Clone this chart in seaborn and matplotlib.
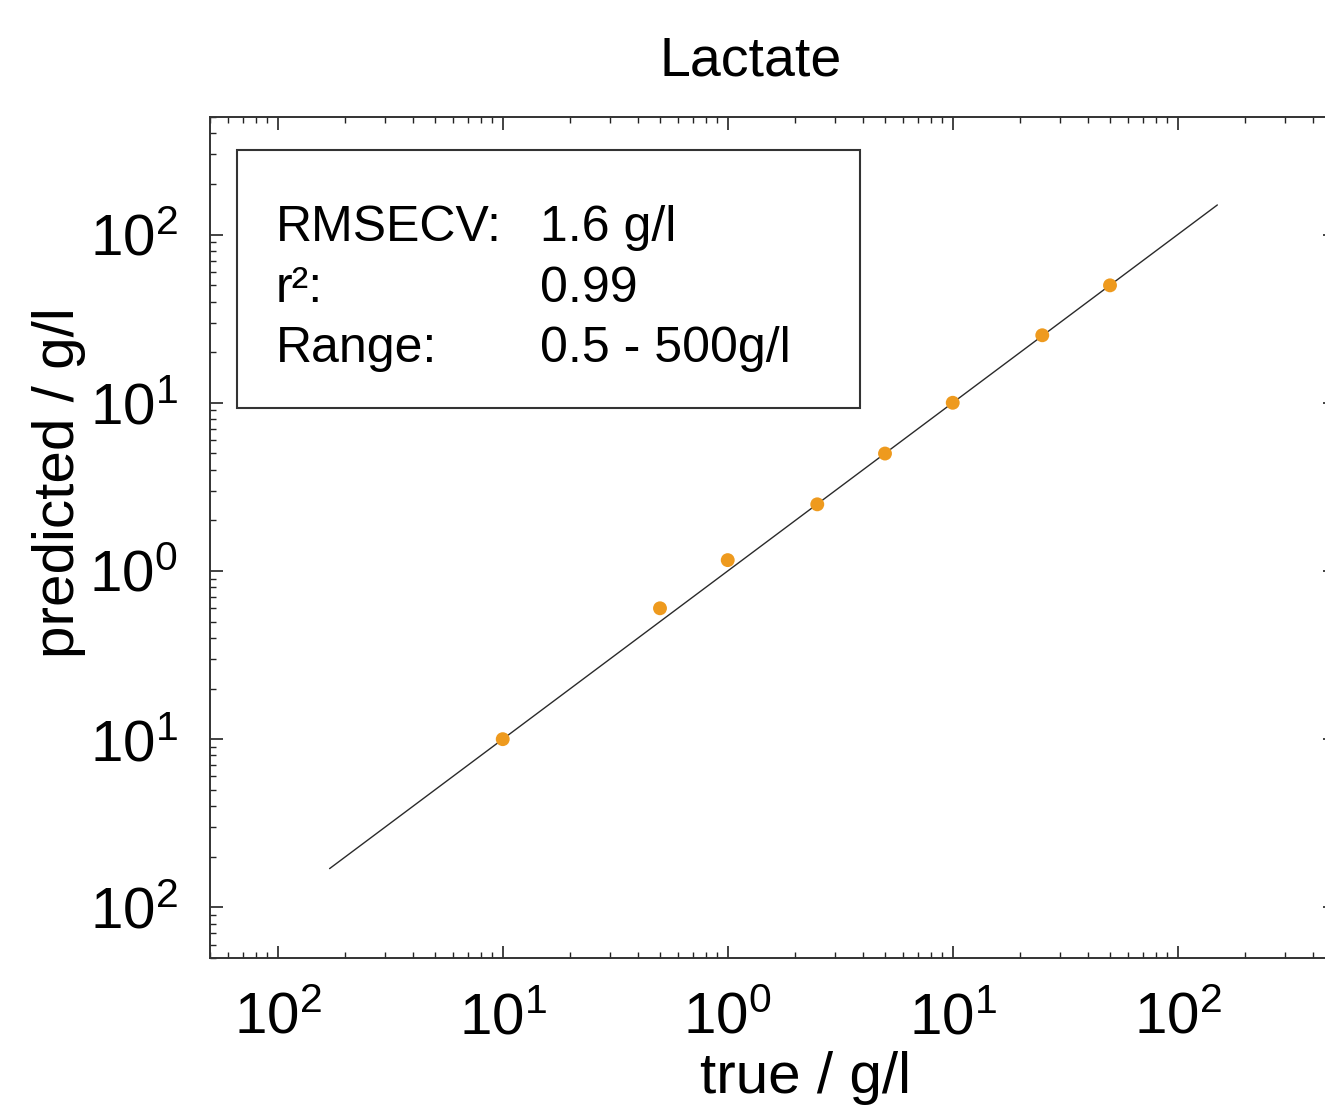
import matplotlib
matplotlib.use("Agg")
import matplotlib.pyplot as plt
import seaborn as sns
import pandas as pd
from matplotlib.ticker import FixedLocator, FixedFormatter, LogLocator, NullFormatter
from matplotlib.patches import Rectangle

# ---- data ----
true_vals = [0.1, 0.5, 1.0, 2.5, 5.0, 10.0, 25.0, 50.0]
pred_vals = [0.1, 0.6, 1.16, 2.49, 4.99, 10.0, 25.2, 49.9]
line_x = [0.017, 150.0]
line_y = [0.017, 150.0]
tick_vals = [0.01, 0.1, 1, 10, 100]
tick_labels = [r"$\mathregular{10^{2}}$", r"$\mathregular{10^{1}}$", r"$\mathregular{10^{0}}$",
               r"$\mathregular{10^{1}}$", r"$\mathregular{10^{2}}$"]
stat_names = ["RMSECV:", "r²:", "Range:"]
stat_values = ["1.6 g/l", "0.99", "0.5 - 500g/l"]
title = "Lactate"
xlabel = "true / g/l"
ylabel = "predicted / g/l"

sns.set_style("ticks")
plt.rcParams["font.family"] = ["Liberation Sans", "DejaVu Sans"]
plt.rcParams["mathtext.fontset"] = "custom"
plt.rcParams["mathtext.rm"] = "Liberation Sans"
plt.rcParams["mathtext.it"] = "Liberation Sans:italic"
plt.rcParams["text.color"] = "black"
plt.rcParams["axes.labelcolor"] = "black"
plt.rcParams["xtick.color"] = "black"
plt.rcParams["ytick.color"] = "black"

W, H = 1325, 1107
fig = plt.figure(figsize=(W / 100, H / 100), dpi=100)
# axes in pixel coordinates: left 210, right 1335, top 117, bottom 958
l, r, t, b = 210, 1335, 117, 958
ax = fig.add_axes([l / W, 1 - b / H, (r - l) / W, (b - t) / H])

df = pd.DataFrame({"true": true_vals, "pred": pred_vals})
ldf = pd.DataFrame({"x": line_x, "y": line_y})

sns.lineplot(data=ldf, x="x", y="y", ax=ax, color="#2a2a2a", linewidth=1.0, zorder=2)
sns.scatterplot(data=df, x="true", y="pred", ax=ax, color="#EE9A1E", s=100,
                edgecolor="none", zorder=3)

ax.set_xscale("log")
ax.set_yscale("log")
ax.set_xlim(0.005, 500)
ax.set_ylim(0.005, 500)

for axis in (ax.xaxis, ax.yaxis):
    axis.set_major_locator(FixedLocator(tick_vals))
    axis.set_major_formatter(FixedFormatter(tick_labels))
    axis.set_minor_locator(LogLocator(base=10, subs=range(2, 10), numticks=20))
    axis.set_minor_formatter(NullFormatter())

ax.tick_params(which="both", direction="in", top=True, right=True, color="#222222")
ax.tick_params(which="major", length=9, width=1.2, labelsize=42, pad=23)
ax.tick_params(axis="x", which="major", pad=24)
ax.tick_params(which="minor", length=4, width=1.0)
for s in ax.spines.values():
    s.set_linewidth(1.4)
    s.set_color("#333333")

ax.set_xlabel(xlabel, fontsize=42)
ax.set_ylabel(ylabel, fontsize=42)
ax.xaxis.set_label_coords(806 / W, 1 - 1078 / H, transform=fig.transFigure)
ax.xaxis.label.set_va("center")
ax.yaxis.set_label_coords(59 / W, 1 - 483 / H, transform=fig.transFigure)
ax.yaxis.label.set_va("center")

fig.text(751 / W, 1 - 61 / H, title, fontsize=40, ha="center", va="center")

# statistics box
bx0 = (237 - l) / (r - l)
bx1 = (860 - l) / (r - l)
by0 = (b - 408) / (b - t)
by1 = (b - 150) / (b - t)
ax.add_patch(Rectangle((bx0, by0), bx1 - bx0, by1 - by0, transform=ax.transAxes,
                       fill=True, facecolor="white", edgecolor="#333333", linewidth=1.5, zorder=4))
rows_px = [228, 289, 349]
for name, val, yp in zip(stat_names, stat_values, rows_px):
    yy = (b - yp) / (b - t)
    ax.text((276 - l) / (r - l), yy, name, transform=ax.transAxes, fontsize=36,
            va="center", ha="left", zorder=5)
    ax.text((540 - l) / (r - l), yy, val, transform=ax.transAxes, fontsize=36,
            va="center", ha="left", zorder=5)

fig.savefig("out.png", dpi=100)
